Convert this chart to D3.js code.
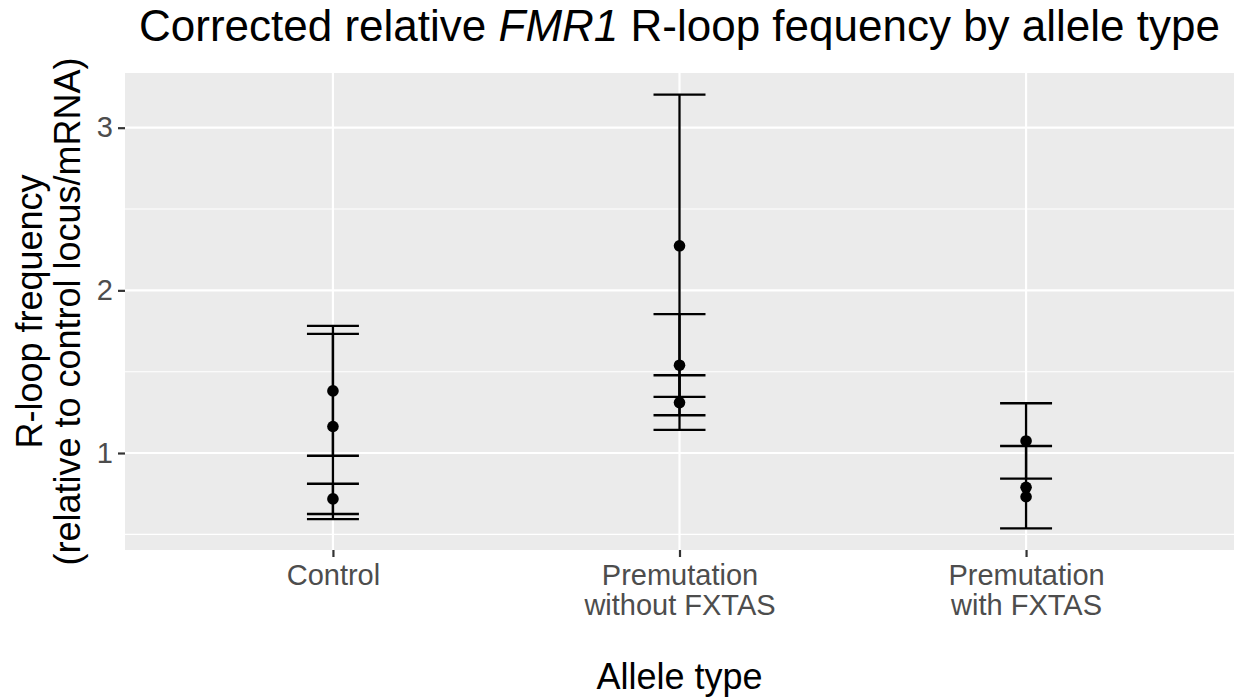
<!DOCTYPE html>
<html>
<head>
<meta charset="utf-8">
<script src="https://cdn.jsdelivr.net/npm/d3@7/dist/d3.min.js"></script>
<style>
  html, body { margin: 0; padding: 0; background: #ffffff; }
  svg { display: block; font-family: "Liberation Sans", Arial, Helvetica, sans-serif; }
</style>
</head>
<body>
<svg id="chart" width="1242" height="698"></svg>
<script>
// Allele type groups and their two-line tick labels
const categories = ["Control", "Premutation without FXTAS", "Premutation with FXTAS"];
const categoryLines = [["Control"], ["Premutation", "without FXTAS"], ["Premutation", "with FXTAS"]];

// One entry per measured sample: group, corrected relative R-loop frequency, error bar limits
const sampleGroup = [
  "Control", "Control", "Control",
  "Premutation without FXTAS", "Premutation without FXTAS", "Premutation without FXTAS",
  "Premutation with FXTAS", "Premutation with FXTAS", "Premutation with FXTAS"
];
const sampleValue = [1.382, 1.163, 0.718, 2.274, 1.540, 1.310, 1.074, 0.789, 0.731];
const errorLow    = [0.983, 0.594, 0.625, 1.345, 1.232, 1.142, 0.842, 0.537, null];
const errorHigh   = [1.782, 1.732, 0.811, 3.203, 1.854, 1.478, 1.306, 1.043, null];

const yTicks = [1, 2, 3];
const yMinorTicks = [0.5, 1.5, 2.5];

const samples = sampleGroup.map((g, i) => ({
  group: g, value: sampleValue[i], lo: errorLow[i], hi: errorHigh[i]
}));

const svg = d3.select("#chart");
const panel = { left: 125, right: 1234, top: 73, bottom: 550 };

// y domain: data range with 5% expansion on each side
const allY = samples.flatMap(d => [d.value, d.lo, d.hi]).filter(v => v != null);
const yMin = d3.min(allY), yMax = d3.max(allY);
const pad = (yMax - yMin) * 0.05;

const x = d3.scalePoint().domain(categories).range([panel.left, panel.right]).padding(0.6);
const y = d3.scaleLinear().domain([yMin - pad, yMax + pad]).range([panel.bottom, panel.top]);

// panel background
svg.append("rect")
  .attr("x", panel.left).attr("y", panel.top)
  .attr("width", panel.right - panel.left).attr("height", panel.bottom - panel.top)
  .attr("fill", "#EBEBEB");

const grid = svg.append("g");
grid.selectAll("line.minor").data(yMinorTicks.filter(t => t >= y.domain()[0] && t <= y.domain()[1]))
  .join("line").attr("class", "minor")
  .attr("x1", panel.left).attr("x2", panel.right)
  .attr("y1", d => y(d)).attr("y2", d => y(d))
  .attr("stroke", "#ffffff").attr("stroke-width", 1.1);
grid.selectAll("line.majorY").data(yTicks)
  .join("line").attr("class", "majorY")
  .attr("x1", panel.left).attr("x2", panel.right)
  .attr("y1", d => y(d)).attr("y2", d => y(d))
  .attr("stroke", "#ffffff").attr("stroke-width", 2.2);
grid.selectAll("line.majorX").data(categories)
  .join("line").attr("class", "majorX")
  .attr("x1", d => x(d)).attr("x2", d => x(d))
  .attr("y1", panel.top).attr("y2", panel.bottom)
  .attr("stroke", "#ffffff").attr("stroke-width", 2.2);

// y axis
const yAxis = svg.append("g")
  .attr("transform", `translate(${panel.left},0)`)
  .call(d3.axisLeft(y).tickValues(yTicks).tickFormat(d3.format("d")).tickSize(7).tickPadding(5));
yAxis.select(".domain").remove();
yAxis.selectAll(".tick line").attr("stroke", "#333333").attr("stroke-width", 2.2);
yAxis.selectAll(".tick text")
  .attr("fill", "#4D4D4D").attr("font-size", 29)
  .attr("font-family", "'Liberation Sans', Arial, sans-serif");

// x axis
const xAxis = svg.append("g")
  .attr("transform", `translate(0,${panel.bottom})`)
  .call(d3.axisBottom(x).tickSize(7).tickFormat(""));
xAxis.select(".domain").remove();
xAxis.selectAll(".tick line").attr("stroke", "#333333").attr("stroke-width", 2.2);
xAxis.selectAll(".tick").each(function(d, i) {
  const t = d3.select(this).append("text")
    .attr("fill", "#4D4D4D").attr("font-size", 29)
    .attr("text-anchor", "middle")
    .attr("font-family", "'Liberation Sans', Arial, sans-serif");
  categoryLines[i].forEach((line, k) => {
    t.append("tspan").attr("x", 0).attr("y", 35 + k * 30).text(line);
  });
});

// error bars
const capHalf = x.step() * 0.075;
const bars = svg.append("g").attr("stroke", "#000000").attr("stroke-width", 2.3).attr("fill", "none");
samples.filter(d => d.lo != null).forEach(d => {
  const cx = x(d.group);
  bars.append("line").attr("x1", cx).attr("x2", cx).attr("y1", y(d.lo)).attr("y2", y(d.hi));
  bars.append("line").attr("x1", cx - capHalf).attr("x2", cx + capHalf).attr("y1", y(d.lo)).attr("y2", y(d.lo));
  bars.append("line").attr("x1", cx - capHalf).attr("x2", cx + capHalf).attr("y1", y(d.hi)).attr("y2", y(d.hi));
});

// points
svg.append("g").selectAll("circle").data(samples).join("circle")
  .attr("cx", d => x(d.group)).attr("cy", d => y(d.value))
  .attr("r", 5.8).attr("fill", "#000000");

// titles
const midX = (panel.left + panel.right) / 2;
const title = svg.append("text")
  .attr("x", midX).attr("y", 41).attr("text-anchor", "middle")
  .attr("font-size", 44).attr("fill", "#000000");
title.append("tspan").text("Corrected relative ");
title.append("tspan").attr("font-style", "italic").text("FMR1");
title.append("tspan").text(" R-loop fequency by allele type");

svg.append("text")
  .attr("x", midX).attr("y", 689).attr("text-anchor", "middle")
  .attr("font-size", 36).attr("fill", "#000000")
  .text("Allele type");

const midY = (panel.top + panel.bottom) / 2;
const yTitle = svg.append("text")
  .attr("transform", `translate(0,${midY}) rotate(-90)`)
  .attr("text-anchor", "middle").attr("font-size", 36).attr("fill", "#000000");
yTitle.append("tspan").attr("x", 0).attr("y", 42).text("R-loop frequency");
yTitle.append("tspan").attr("x", 0).attr("y", 80).text("(relative to control locus/mRNA)");
</script>
</body>
</html>
